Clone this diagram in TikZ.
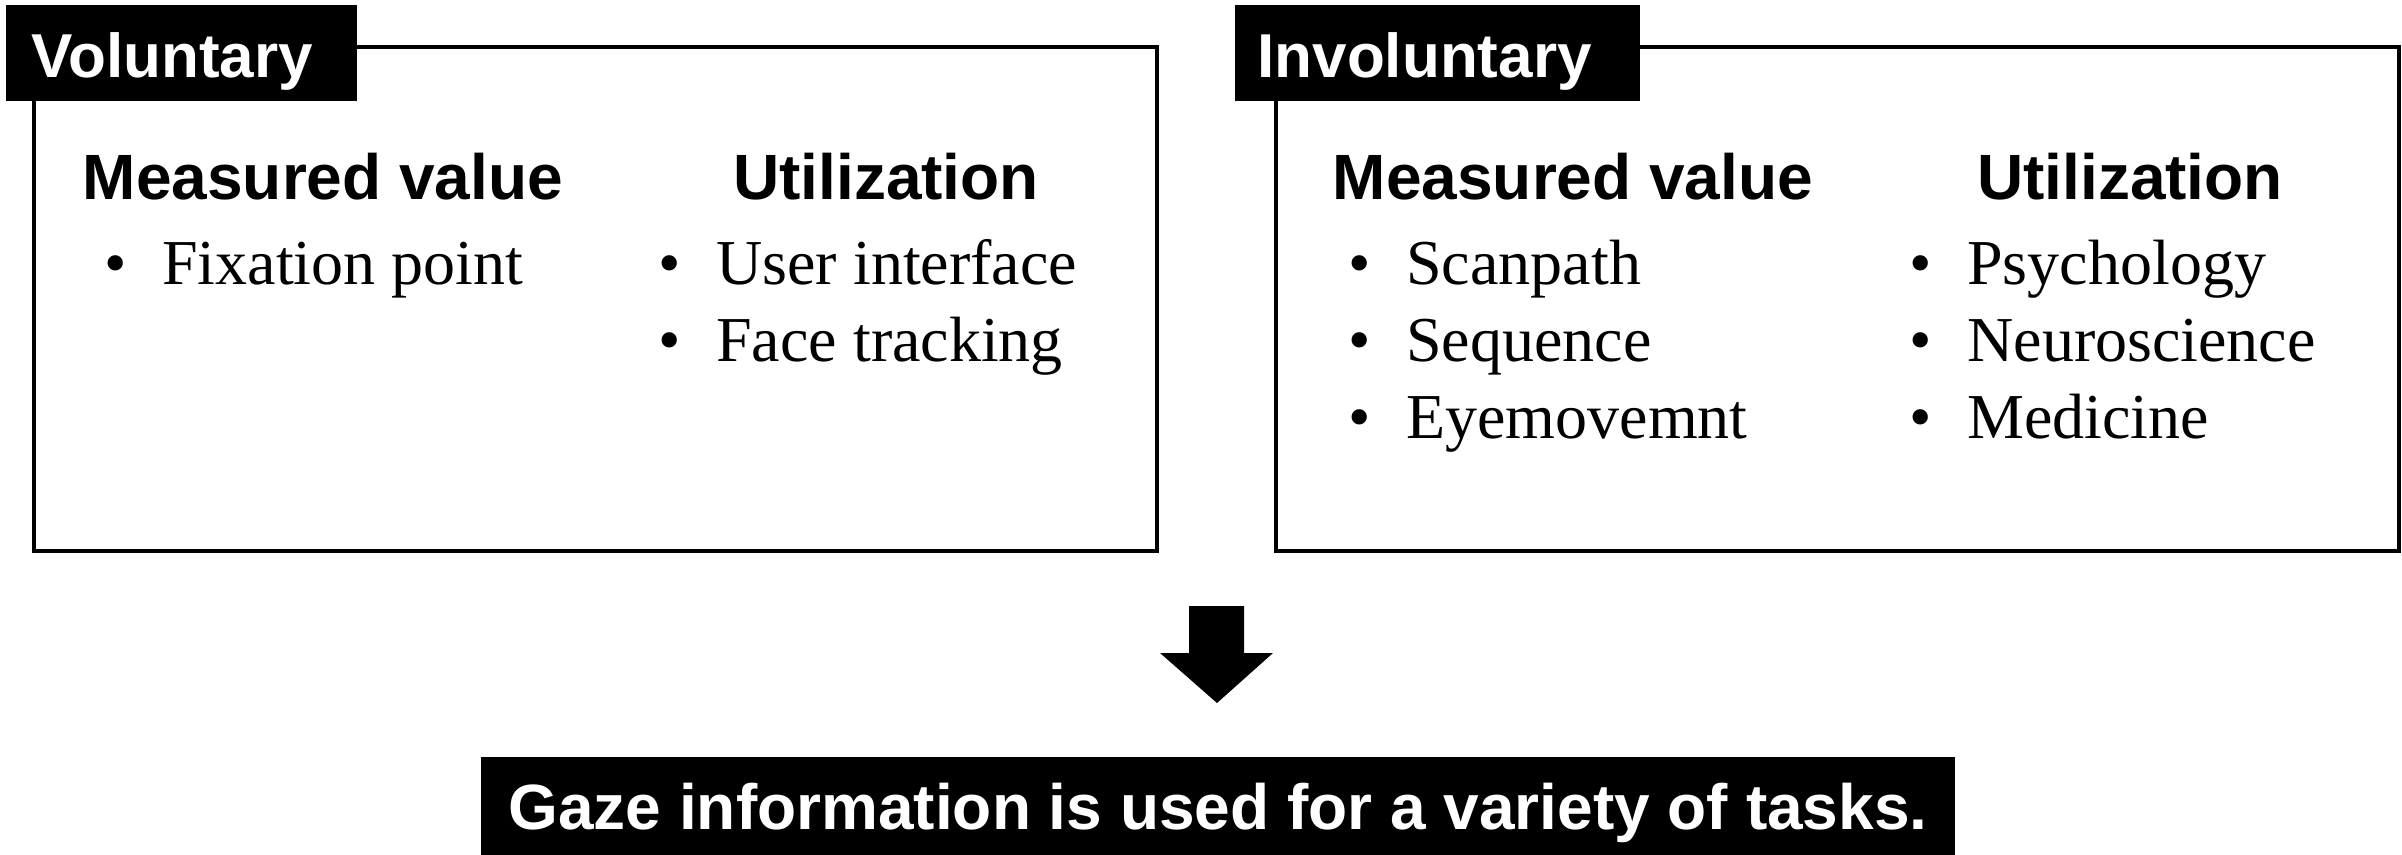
\documentclass[tikz,border=0pt]{standalone}
\usepackage{fontspec}
\setmainfont{Liberation Serif}
\newfontfamily\hdfont{Liberation Sans}
\newcommand{\blt}{\makebox[29pt][l]{•}}
\begin{document}
\begin{tikzpicture}[x=0.5pt,y=-0.5pt,
  frame/.style={draw=black,line width=2.2pt,fill=none},
  tagbox/.style={fill=black,draw=none},
  tagtext/.style={text=white,font=\hdfont\bfseries\fontsize{31}{36}\selectfont,inner sep=0pt,anchor=base west},
  headtext/.style={font=\hdfont\bfseries\fontsize{32}{38}\selectfont,inner sep=0pt,anchor=base},
  itemtext/.style={font=\fontsize{32}{38}\selectfont,inner sep=0pt,anchor=base west},
  bigarrow/.style={fill=black,draw=none}]
\useasboundingbox (0,0) rectangle (2402,855);
% left panel
\draw[frame] (34,47) rectangle (1157,551);
\fill[tagbox] (6,5) rectangle (357,101);
\node[tagtext] (vol) at (31,78) {Voluntary};
\node[headtext] (lmh) at (323,200) {Measured value};
\node[headtext] (luh) at (886,200) {Utilization};
\node[itemtext] (lm1) at (104,285) {\blt Fixation point};
\node[itemtext] (lu1) at (658,285) {\blt User interface};
\node[itemtext] (lu2) at (658,362) {\blt Face tracking};
% right panel
\draw[frame] (1276,47) rectangle (2399,551);
\fill[tagbox] (1235,5) rectangle (1640,101);
\node[tagtext] (invol) at (1257,78) {Involuntary};
\node[headtext] (rmh) at (1573,200) {Measured value};
\node[headtext] (ruh) at (2130,200) {Utilization};
\node[itemtext] (rm1) at (1348,285) {\blt Scanpath};
\node[itemtext] (rm2) at (1348,362) {\blt Sequence};
\node[itemtext] (rm3) at (1348,438) {\blt Eyemovemnt};
\node[itemtext] (ru1) at (1909,285) {\blt Psychology};
\node[itemtext] (ru2) at (1909,362) {\blt Neuroscience};
\node[itemtext] (ru3) at (1909,438) {\blt Medicine};
% arrow
\fill[bigarrow] (1189,606) -- (1244,606) -- (1244,653) -- (1273,653) -- (1217,703) -- (1160,653) -- (1189,653) -- cycle;
% bottom banner
\fill[tagbox] (481,757) rectangle (1955,855);
\node[text=white,font=\hdfont\bfseries\fontsize{32}{38}\selectfont,inner sep=0pt,anchor=base] (gaze) at (1218,829) {Gaze information is used for a variety of tasks.};
\end{tikzpicture}
\end{document}
